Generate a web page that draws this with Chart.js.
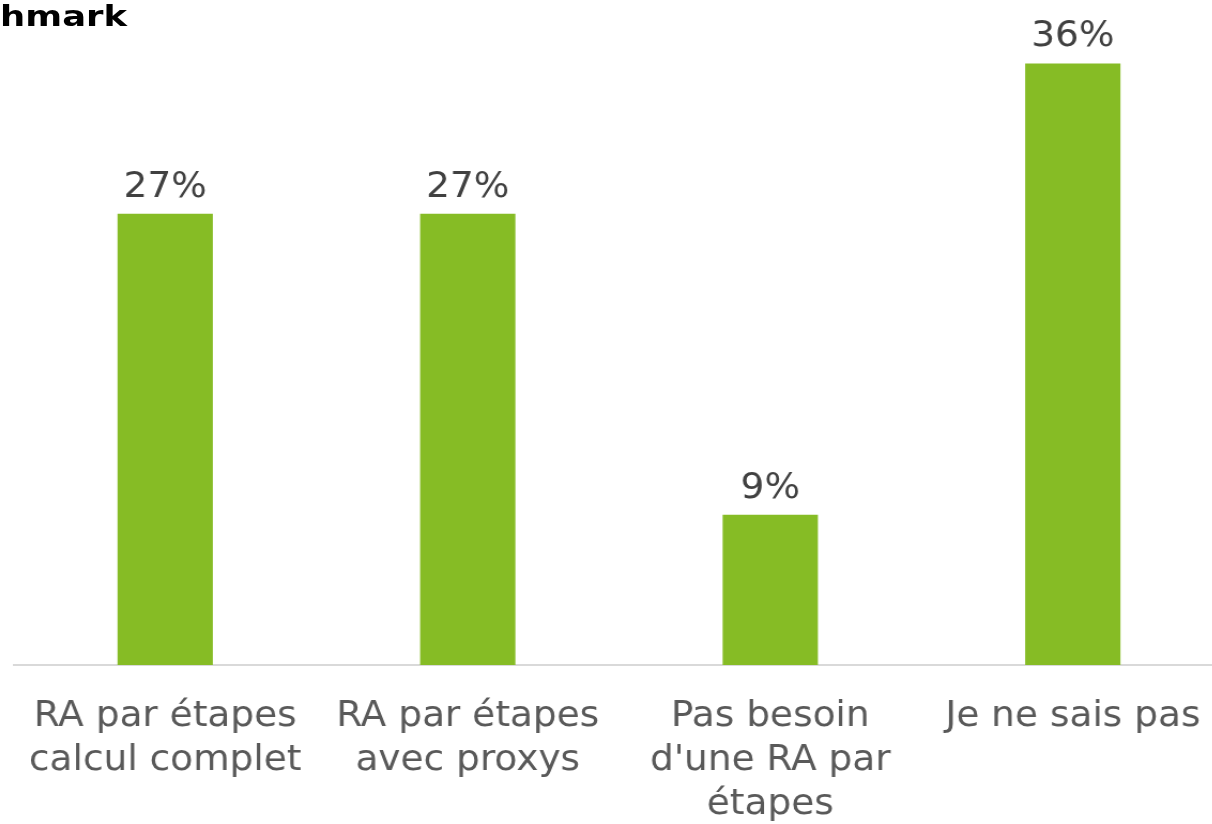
<!DOCTYPE html>
<html>
<head>
<meta charset="utf-8">
<script src="https://cdn.jsdelivr.net/npm/chart.js@4/dist/chart.umd.min.js"></script>
<style>
  html, body { margin: 0; padding: 0; background: #fff; overflow: hidden; }
  body { width: 1212px; height: 824px; position: relative; }
  /* the source picture is a little stretched horizontally, so the chart is drawn narrower and widened */
  #wrap { position: absolute; left: 0; top: 0; width: 1159px; height: 849px; transform: scaleX(1.07); transform-origin: 0 0; }
  #title {
    position: absolute; top: -1px; left: -300px; width: 427px; text-align: right; white-space: nowrap;
    font: bold 29px "DejaVu Sans", Verdana, sans-serif; color: #000;
    transform: scaleX(1.22); transform-origin: 427px 0;
  }
</style>
</head>
<body>
<div id="wrap">
  <canvas id="chart" width="1159" height="849"></canvas>
</div>
<div id="title">Benchmark</div>
<script>
/* Benchmark — répartition des réponses (RA par étapes) */

const categories = [
  ["RA par étapes", "calcul complet"],
  ["RA par étapes", "avec proxys"],
  ["Pas besoin", "d'une RA par", "étapes"],
  ["Je ne sais pas"],
];
const shares = [27, 27, 9, 36];
const valueLabels = ["27%", "27%", "9%", "36%"];

const FONT = '"DejaVu Sans", Verdana, sans-serif';

// draws the % labels above each bar
const barLabels = {
  id: "barLabels",
  afterDatasetsDraw(chart) {
    const { ctx } = chart;
    const meta = chart.getDatasetMeta(0);
    ctx.save();
    ctx.font = `35px ${FONT}`;
    ctx.fillStyle = "#404040";
    ctx.textAlign = "center";
    ctx.textBaseline = "alphabetic";
    meta.data.forEach((bar, i) => {
      ctx.fillText(valueLabels[i], bar.x, bar.y - 17);
    });
    ctx.restore();
  },
};

new Chart(document.getElementById("chart"), {
  type: "bar",
  data: {
    labels: categories,
    datasets: [{
      data: shares,
      backgroundColor: "#86BC25",
      borderWidth: 0,
      barPercentage: 0.315,
      categoryPercentage: 1,
    }],
  },
  options: {
    responsive: false,
    animation: false,
    layout: { padding: { left: 13, right: 15, top: 0, bottom: 0 } },
    plugins: { legend: { display: false }, tooltip: { enabled: false } },
    scales: {
      x: {
        grid: { display: false },
        border: { color: "#d9d9d9", width: 2 },
        ticks: {
          color: "#595959",
          font: { family: FONT, size: 35, lineHeight: 1.257 },
          padding: 22,
          maxRotation: 0,
          autoSkip: false,
        },
      },
      y: { display: false, min: 0, max: 39.8 },
    },
  },
  plugins: [barLabels],
});
</script>
</body>
</html>
